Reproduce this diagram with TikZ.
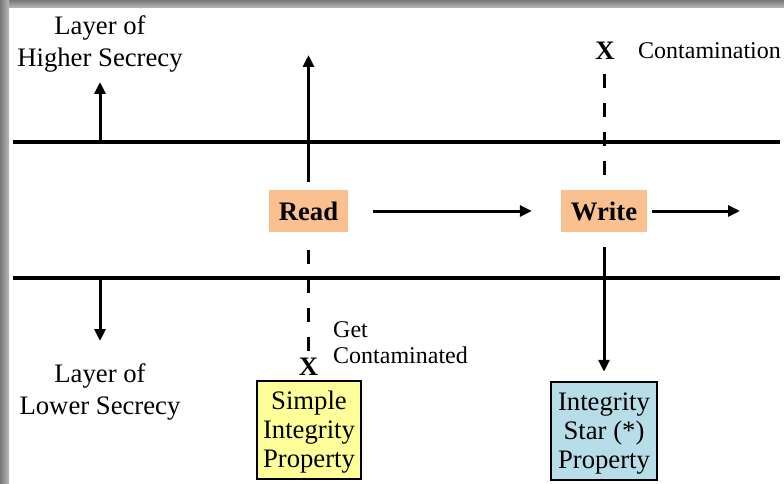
\documentclass[tikz,border=0pt]{standalone}
\usepackage{fontspec}
\setmainfont{Liberation Serif}
\usetikzlibrary{arrows.meta}
\definecolor{peach}{RGB}{250,192,144}
\definecolor{paleyellow}{RGB}{255,255,153}
\definecolor{paleblue}{RGB}{183,222,232}
\definecolor{rimdark}{RGB}{120,120,120}
\definecolor{rimlight}{RGB}{185,185,185}

\begin{document}
\begin{tikzpicture}[x=1pt,y=-1pt,
  layerline/.style={line width=4pt},
  flow/.style={line width=3pt,-{Triangle[length=12pt,width=11pt]}},
  blocked/.style={line width=3pt,dash pattern=on 14pt off 15pt},
  opbox/.style={fill=peach,minimum width=79pt,minimum height=42pt,inner sep=0pt,
    font=\bfseries\fontsize{26.7}{32}\selectfont},
  propbox/.style={draw,line width=2.5pt,align=center,inner sep=1pt,
    minimum height=98pt,font=\fontsize{26.7}{29}\selectfont},
  layertext/.style={align=center,inner sep=0pt,font=\fontsize{26.7}{32}\selectfont},
  remark/.style={align=left,inner sep=0pt,anchor=west,font=\fontsize{24}{26}\selectfont},
  cross/.style={inner sep=0pt,font=\bfseries\fontsize{26.7}{32}\selectfont}
]
% page and its shadowed frame
\useasboundingbox (0,0) rectangle (784,484);
\fill[white] (0,0) rectangle (784,484);
\shade[top color=rimdark,bottom color=rimlight] (0,0) rectangle (784,8);
\shade[left color=rimdark,right color=rimlight] (0,0) rectangle (9,484);

% the two layer boundaries
\coordinate (hiL) at (13,142);
\coordinate (hiR) at (780,142);
\coordinate (loL) at (13,278);
\coordinate (loR) at (780,278);
\draw[layerline] (hiL) -- (hiR);
\draw[layerline] (loL) -- (loR);

% layer labels with their arrows
\node[layertext] (high) at (100,44) {Layer of\\Higher Secrecy};
\node[layertext] (low) at (100,392) {Layer of\\Lower Secrecy};
\coordinate (upfoot) at (100,142);
\coordinate (uptip) at (100,82);
\coordinate (downfoot) at (100,278);
\coordinate (downtip) at (100,341);
\draw[flow] (upfoot) -- (uptip);
\draw[flow] (downfoot) -- (downtip);

% operations
\node[opbox] (read) at (308.5,211) {Read};
\node[opbox,minimum width=86pt] (write) at (604,211) {Write};

% properties
\node[propbox,fill=paleyellow,minimum width=104pt] (simple) at (309,430)
  {\rule{0pt}{22pt}Simple\\Integrity\\Property};
\node[propbox,fill=paleblue,minimum width=106pt] (star) at (604,431)
  {\rule{0pt}{22pt}Integrity\\Star (*)\\Property};

% blocked flows
\node[cross] (xread) at (308.5,367) {X};
\node[cross] (xwrite) at (605,51) {X};
\node[remark] (getc) at (333,343) {Get\\Contaminated};
\node[remark] (contam) at (638,51) {Contamination};

% read flows
\coordinate (readtop) at (308.5,55);
\draw[flow,shorten <=8pt] (read) -- (readtop);
\draw[blocked,shorten <=18pt,shorten >=7pt] (read) -- (xread);

% write flows
\coordinate (outtip) at (740,211);
\draw[flow,shorten <=25pt,shorten >=29pt] (read) -- (write);
\draw[flow,shorten <=5pt] (write) -- (outtip);
\draw[blocked,shorten <=15pt,shorten >=13pt] (write.north) -- (write.north |- xwrite.south);
\draw[flow,shorten <=15pt,shorten >=9pt] (write) -- (star);
\end{tikzpicture}
\end{document}
